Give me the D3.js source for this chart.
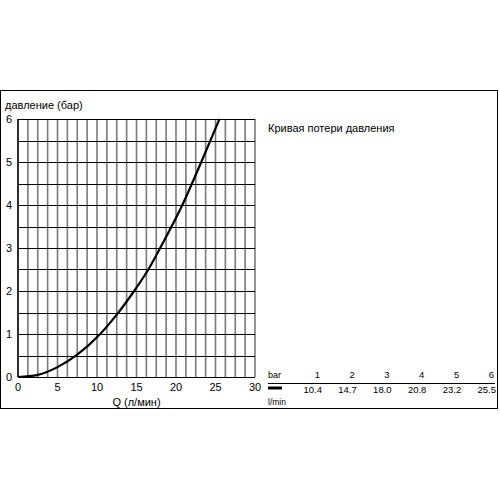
<!DOCTYPE html>
<html><head><meta charset="utf-8">
<script src="https://cdn.jsdelivr.net/npm/d3@7"></script>
<style>body{margin:0;background:#fff}svg{display:block}text{font-family:"Liberation Sans",Arial,sans-serif;fill:#000}</style>
</head><body>
<svg id="c" width="500" height="500"></svg>
<script>
const flowValues = [0, 2.5, 5, 7.5, 10.4, 12.5, 14.7, 16.5, 18.0, 20.8, 23.2, 25.5];
const pressureValues = [0, 0.05, 0.23, 0.52, 1, 1.45, 2, 2.5, 3, 4, 5, 6];
const xTicks = [0, 5, 10, 15, 20, 25, 30];
const yTicks = [0, 1, 2, 3, 4, 5, 6];
const tableBar = ["1", "2", "3", "4", "5", "6"];
const tableFlow = ["10.4", "14.7", "18.0", "20.8", "23.2", "25.5"];
const yTitle = "давление (бар)";
const xTitle = "Q (л/мин)";
const legendTitle = "Кривая потери давления";

const svg = d3.select("#c");
const x = d3.scaleLinear().domain([0, 30]).range([18, 255]);
const y = d3.scaleLinear().domain([0, 6]).range([377, 119]);

// outer frame
svg.append("rect").attr("x", 0.5).attr("y", 90.5).attr("width", 497).attr("height", 318)
  .attr("fill", "none").attr("stroke", "#000").attr("stroke-width", 1);

// vertical grid (gray)
const vx = d3.range(0, 30.001, 1.25);
svg.append("g").selectAll("line").data(vx).join("line")
  .attr("x1", d => x(d)).attr("x2", d => x(d)).attr("y1", y(6)).attr("y2", y(0))
  .attr("stroke", "#7a7a7a").attr("stroke-width", 1.6);
// horizontal grid (black)
const hy = d3.range(0, 6.001, 0.5);
svg.append("g").selectAll("line").data(hy).join("line")
  .attr("x1", x(0)).attr("x2", x(30)).attr("y1", d => Math.round(y(d)) + 0.5).attr("y2", d => Math.round(y(d)) + 0.5)
  .attr("stroke", "#000").attr("stroke-width", 1);
svg.append("line").attr("x1", x(0)).attr("x2", x(0)).attr("y1", y(6)).attr("y2", y(0)).attr("stroke", "#000").attr("stroke-width", 1.4);

// axes labels
svg.append("g").selectAll("text").data(yTicks).join("text")
  .attr("x", 12).attr("y", d => y(d) + 4).attr("text-anchor", "end").attr("font-size", 11).text(d => d);
svg.append("g").selectAll("text").data(xTicks).join("text")
  .attr("x", d => x(d)).attr("y", 391).attr("text-anchor", "middle").attr("font-size", 11).text(d => d);
svg.append("text").attr("x", 5).attr("y", 109).attr("font-size", 11).text(yTitle);
svg.append("text").attr("x", x(15)).attr("y", 406).attr("text-anchor", "middle").attr("font-size", 11).text(xTitle);

// curve
const pts = flowValues.map((f, i) => [f, pressureValues[i]]);
const line = d3.line().x(d => x(d[0])).y(d => y(d[1])).curve(d3.curveMonotoneX);
svg.append("path").datum(pts).attr("d", line).attr("fill", "none").attr("stroke", "#000").attr("stroke-width", 2.2);

// legend title
svg.append("text").attr("x", 268).attr("y", 132).attr("font-size", 11).text(legendTitle);

// table
const colX = d3.scalePoint().domain(d3.range(6)).range([320, 494]);
svg.append("text").attr("x", 268).attr("y", 378).attr("font-size", 9).text("bar");
svg.append("g").selectAll("text").data(tableBar).join("text")
  .attr("x", (d, i) => colX(i)).attr("y", 378).attr("text-anchor", "end").attr("font-size", 9.5).text(d => d);
svg.append("line").attr("x1", 268).attr("x2", 495).attr("y1", 383.5).attr("y2", 383.5).attr("stroke", "#000").attr("stroke-width", 1);
svg.append("line").attr("x1", 268).attr("x2", 282).attr("y1", 388).attr("y2", 388).attr("stroke", "#000").attr("stroke-width", 3);
svg.append("g").selectAll("text").data(tableFlow).join("text")
  .attr("x", (d, i) => colX(i) + 2).attr("y", 393).attr("text-anchor", "end").attr("font-size", 9.5).attr("fill", "#222").text(d => d);
svg.append("text").attr("x", 268).attr("y", 405).attr("font-size", 8.5).text("l/min");
</script>
</body></html>
